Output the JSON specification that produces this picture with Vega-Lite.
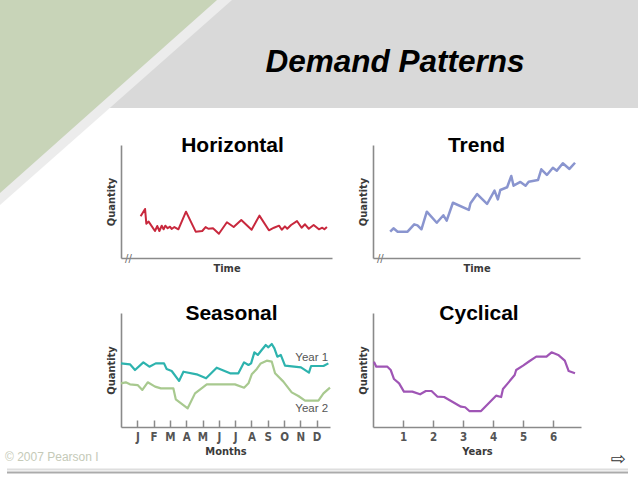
{
  "$schema": "https://vega.github.io/schema/vega-lite/v6.json",
  "padding": 0,
  "background": "white",
  "bounds": "flush",
  "spacing": 37,
  "datasets": {
    "chrome": [
      {"part": "stripe", "x": 232, "y": 0},
      {"part": "stripe", "x": 0, "y": 205},
      {"part": "green", "x": 217, "y": 0},
      {"part": "green", "x": 0, "y": 193},
      {"part": "rule_light", "x": 7, "x2": 628, "y": 469.5},
      {"part": "rule_dark", "x": 7, "x2": 628, "y": 472.5},
      {"part": "copyright", "x": 5, "y": 456.5, "label": "© 2007 Pearson I"},
      {"part": "arrow", "x": 618, "y": 460, "label": "⇨"}
    ],
    "horizontal": [
      {"t": 9.3, "q": 36.9}, {"t": 11.4, "q": 43.4}, {"t": 12.0, "q": 30.4}, {"t": 13.1, "q": 32.2},
      {"t": 16.1, "q": 23.9}, {"t": 17.2, "q": 28.3}, {"t": 18.2, "q": 23.9}, {"t": 19.3, "q": 28.6},
      {"t": 20.2, "q": 25.4}, {"t": 21.0, "q": 28.6}, {"t": 22.1, "q": 26.3}, {"t": 23.2, "q": 27.7},
      {"t": 24.0, "q": 25.7}, {"t": 25.3, "q": 27.4}, {"t": 27.2, "q": 25.4}, {"t": 30.8, "q": 41.0},
      {"t": 35.4, "q": 23.3}, {"t": 38.5, "q": 23.9}, {"t": 40.1, "q": 27.4}, {"t": 41.4, "q": 25.9},
      {"t": 43.6, "q": 26.3}, {"t": 46.4, "q": 21.5}, {"t": 50.2, "q": 31.6}, {"t": 53.4, "q": 27.4},
      {"t": 57.0, "q": 33.6}, {"t": 61.9, "q": 25.0}, {"t": 65.6, "q": 37.5}, {"t": 70.1, "q": 24.5},
      {"t": 72.5, "q": 26.8}, {"t": 74.9, "q": 28.6}, {"t": 76.2, "q": 25.0}, {"t": 77.7, "q": 28.0},
      {"t": 78.8, "q": 25.9}, {"t": 80.6, "q": 29.2}, {"t": 83.4, "q": 32.7}, {"t": 85.6, "q": 26.8},
      {"t": 87.2, "q": 29.8}, {"t": 89.0, "q": 25.9}, {"t": 91.3, "q": 29.2}, {"t": 93.8, "q": 25.4},
      {"t": 95.4, "q": 26.8}, {"t": 96.4, "q": 25.4}, {"t": 97.6, "q": 27.4}
    ],
    "trend": [
      {"t": 8.3, "q": 23.3}, {"t": 9.9, "q": 26.3}, {"t": 11.9, "q": 23.3}, {"t": 16.7, "q": 23.3},
      {"t": 19.9, "q": 29.8}, {"t": 21.5, "q": 28.9}, {"t": 23.4, "q": 25.4}, {"t": 26.0, "q": 41.0},
      {"t": 30.8, "q": 31.2}, {"t": 34.0, "q": 37.8}, {"t": 35.6, "q": 33.0}, {"t": 38.6, "q": 48.9},
      {"t": 46.3, "q": 42.5}, {"t": 47.1, "q": 48.4}, {"t": 50.3, "q": 56.6}, {"t": 55.1, "q": 47.8},
      {"t": 58.7, "q": 59.6}, {"t": 60.3, "q": 51.9}, {"t": 61.5, "q": 60.2}, {"t": 64.8, "q": 62.6},
      {"t": 66.8, "q": 72.6}, {"t": 67.9, "q": 64.0}, {"t": 71.2, "q": 67.3}, {"t": 73.7, "q": 64.0},
      {"t": 75.2, "q": 67.5}, {"t": 79.7, "q": 69.0}, {"t": 81.3, "q": 78.5}, {"t": 84.0, "q": 73.5},
      {"t": 86.9, "q": 79.9}, {"t": 88.8, "q": 77.3}, {"t": 91.7, "q": 83.8}, {"t": 94.9, "q": 78.8},
      {"t": 97.6, "q": 84.3}
    ],
    "seasonal": [
      {"series": "Year 1", "month": 0.0, "q": 55.8}, {"series": "Year 1", "month": 0.55, "q": 55.0},
      {"series": "Year 1", "month": 0.86, "q": 50.0}, {"series": "Year 1", "month": 1.37, "q": 56.7},
      {"series": "Year 1", "month": 1.74, "q": 52.9}, {"series": "Year 1", "month": 2.13, "q": 55.8},
      {"series": "Year 1", "month": 2.64, "q": 55.8}, {"series": "Year 1", "month": 2.80, "q": 50.9},
      {"series": "Year 1", "month": 3.11, "q": 49.1}, {"series": "Year 1", "month": 3.56, "q": 40.4},
      {"series": "Year 1", "month": 3.83, "q": 48.5}, {"series": "Year 1", "month": 4.64, "q": 46.2},
      {"series": "Year 1", "month": 5.22, "q": 42.7}, {"series": "Year 1", "month": 5.87, "q": 52.0},
      {"series": "Year 1", "month": 6.69, "q": 47.1}, {"series": "Year 1", "month": 7.20, "q": 47.1},
      {"series": "Year 1", "month": 7.55, "q": 56.7}, {"series": "Year 1", "month": 7.82, "q": 54.4},
      {"series": "Year 1", "month": 7.98, "q": 55.8}, {"series": "Year 1", "month": 8.18, "q": 65.5},
      {"series": "Year 1", "month": 8.39, "q": 63.2}, {"series": "Year 1", "month": 8.63, "q": 67.5},
      {"series": "Year 1", "month": 8.88, "q": 71.9}, {"series": "Year 1", "month": 9.04, "q": 69.9},
      {"series": "Year 1", "month": 9.25, "q": 72.8}, {"series": "Year 1", "month": 9.41, "q": 69.0},
      {"series": "Year 1", "month": 9.59, "q": 61.7}, {"series": "Year 1", "month": 9.80, "q": 63.2},
      {"series": "Year 1", "month": 10.06, "q": 53.8}, {"series": "Year 1", "month": 11.04, "q": 52.3},
      {"series": "Year 1", "month": 11.53, "q": 47.7}, {"series": "Year 1", "month": 11.66, "q": 53.5},
      {"series": "Year 1", "month": 12.42, "q": 53.5}, {"series": "Year 1", "month": 12.72, "q": 55.8},
      {"series": "Year 2", "month": 0.0, "q": 38.3}, {"series": "Year 2", "month": 0.29, "q": 39.2},
      {"series": "Year 2", "month": 0.55, "q": 37.4}, {"series": "Year 2", "month": 1.02, "q": 36.8},
      {"series": "Year 2", "month": 1.31, "q": 32.5}, {"series": "Year 2", "month": 1.64, "q": 39.2},
      {"series": "Year 2", "month": 2.09, "q": 35.4}, {"series": "Year 2", "month": 2.45, "q": 33.9},
      {"series": "Year 2", "month": 3.21, "q": 33.9}, {"series": "Year 2", "month": 3.36, "q": 24.3},
      {"series": "Year 2", "month": 4.09, "q": 16.4}, {"series": "Year 2", "month": 4.54, "q": 29.5},
      {"series": "Year 2", "month": 5.26, "q": 37.4}, {"series": "Year 2", "month": 6.99, "q": 37.4},
      {"series": "Year 2", "month": 7.55, "q": 34.5}, {"series": "Year 2", "month": 7.82, "q": 38.3},
      {"series": "Year 2", "month": 8.02, "q": 46.2}, {"series": "Year 2", "month": 8.33, "q": 50.9},
      {"series": "Year 2", "month": 8.57, "q": 55.8}, {"series": "Year 2", "month": 8.94, "q": 58.2},
      {"series": "Year 2", "month": 9.25, "q": 57.3}, {"series": "Year 2", "month": 9.45, "q": 47.1},
      {"series": "Year 2", "month": 9.96, "q": 39.8}, {"series": "Year 2", "month": 10.47, "q": 30.4},
      {"series": "Year 2", "month": 10.88, "q": 27.2}, {"series": "Year 2", "month": 11.29, "q": 23.1},
      {"series": "Year 2", "month": 12.11, "q": 23.1}, {"series": "Year 2", "month": 12.42, "q": 29.5},
      {"series": "Year 2", "month": 12.82, "q": 34.5}
    ],
    "seasonal_labels": [
      {"series": "Year 1", "month": 11.7, "q": 60.5},
      {"series": "Year 2", "month": 11.7, "q": 15.8}
    ],
    "cyclical": [
      {"year": 0.03, "q": 57.3}, {"year": 0.11, "q": 52.9}, {"year": 0.48, "q": 52.9}, {"year": 0.59, "q": 50.0},
      {"year": 0.70, "q": 42.1}, {"year": 0.87, "q": 38.3}, {"year": 1.03, "q": 31.0}, {"year": 1.31, "q": 31.0},
      {"year": 1.57, "q": 28.7}, {"year": 1.76, "q": 31.6}, {"year": 1.95, "q": 31.6}, {"year": 2.15, "q": 26.6},
      {"year": 2.37, "q": 26.3}, {"year": 2.93, "q": 17.8}, {"year": 3.07, "q": 17.3}, {"year": 3.21, "q": 14.0},
      {"year": 3.60, "q": 14.0}, {"year": 4.10, "q": 27.5}, {"year": 4.27, "q": 26.3}, {"year": 4.33, "q": 33.3},
      {"year": 4.49, "q": 38.3}, {"year": 4.72, "q": 45.6}, {"year": 4.77, "q": 50.0}, {"year": 5.00, "q": 53.8},
      {"year": 5.22, "q": 57.9}, {"year": 5.44, "q": 61.7}, {"year": 5.78, "q": 61.7}, {"year": 5.95, "q": 65.5},
      {"year": 6.17, "q": 63.2}, {"year": 6.39, "q": 58.2}, {"year": 6.52, "q": 49.1}, {"year": 6.73, "q": 47.1}
    ]
  },
  "vconcat": [
    {
      "width": 638,
      "height": 108,
      "view": {"fill": "#d9d9d9", "stroke": null},
      "title": {"text": "Demand Patterns", "fontSize": 31.5, "fontStyle": "italic", "fontWeight": "bold", "dx": 76, "offset": -78},
      "data": {"name": "chrome"},
      "encoding": {
        "x": {"field": "x", "type": "quantitative", "stack": null, "scale": {"domain": [0, 638], "nice": false}, "axis": null},
        "y": {"field": "y", "type": "quantitative", "scale": {"domain": [0, 108], "nice": false, "zero": false, "reverse": true}, "axis": null}
      },
      "layer": [
        {"transform": [{"filter": "datum.part === 'stripe'"}], "mark": {"type": "area", "orient": "horizontal", "color": "#ececec"}},
        {"transform": [{"filter": "datum.part === 'green'"}], "mark": {"type": "area", "orient": "horizontal", "color": "#c8d4b8"}},
        {"transform": [{"filter": "datum.part === 'rule_light'"}], "mark": {"type": "rule", "color": "#dedede", "strokeWidth": 2}, "encoding": {"x2": {"field": "x2"}}},
        {"transform": [{"filter": "datum.part === 'rule_dark'"}], "mark": {"type": "rule", "color": "#ababab", "strokeWidth": 2}, "encoding": {"x2": {"field": "x2"}}},
        {"transform": [{"filter": "datum.part === 'copyright'"}], "mark": {"type": "text", "align": "left", "baseline": "middle", "font": "Liberation Sans", "fontSize": 12, "color": "#c5cab8"}, "encoding": {"text": {"field": "label"}}},
        {"transform": [{"filter": "datum.part === 'arrow'"}], "mark": {"type": "text", "align": "center", "baseline": "middle", "font": "DejaVu Sans", "fontSize": 18, "color": "#333333"}, "encoding": {"text": {"field": "label"}}}
      ]
    },
    {
      "columns": 3,
      "spacing": {"row": 55, "column": 41},
      "align": "none",
      "bounds": "flush",
      "concat": [
        {"width": 80, "height": 113, "data": {"values": []}, "mark": "point"},
        {
          "width": 211,
          "height": 113,
          "title": {"text": "Horizontal", "dx": 6},
          "data": {"name": "horizontal"},
          "mark": {"type": "line", "color": "#c8283d", "strokeWidth": 2, "strokeJoin": "round"},
          "encoding": {
            "x": {"field": "t", "type": "quantitative", "scale": {"domain": [0, 100], "nice": false, "zero": false},
              "axis": {"title": "Time", "ticks": false, "values": [3.3], "labelExpr": "'//'", "labelBaseline": "middle", "labelPadding": 0, "labelFont": "DejaVu Sans", "labelFontWeight": "normal", "labelFontSize": 10, "labelColor": "#666666", "titlePadding": -1}},
            "y": {"field": "q", "type": "quantitative", "scale": {"domain": [0, 100], "nice": false, "zero": false},
              "axis": {"title": "Quantity", "ticks": false, "labels": false, "titlePadding": 5}}
          }
        },
        {
          "width": 207,
          "height": 113,
          "title": {"text": "Trend", "dx": 0},
          "data": {"name": "trend"},
          "mark": {"type": "line", "color": "#8a95cf", "strokeWidth": 2.5, "strokeJoin": "round"},
          "encoding": {
            "x": {"field": "t", "type": "quantitative", "scale": {"domain": [0, 100], "nice": false, "zero": false},
              "axis": {"title": "Time", "ticks": false, "values": [3.3], "labelExpr": "'//'", "labelBaseline": "middle", "labelPadding": 0, "labelFont": "DejaVu Sans", "labelFontWeight": "normal", "labelFontSize": 10, "labelColor": "#666666", "titlePadding": -1}},
            "y": {"field": "q", "type": "quantitative", "scale": {"domain": [0, 100], "nice": false, "zero": false},
              "axis": {"title": "Quantity", "ticks": false, "labels": false, "titlePadding": 5}}
          }
        },
        {"width": 78, "height": 114, "data": {"values": []}, "mark": "point"},
        {
          "width": 209,
          "height": 114,
          "title": {"text": "Seasonal", "dx": 6},
          "encoding": {
            "x": {"field": "month", "type": "quantitative", "scale": {"domain": [0, 12.82], "nice": false, "zero": false},
              "axis": {"title": "Months", "values": [1, 2, 3, 4, 5, 6, 7, 8, 9, 10, 11, 12], "labelExpr": "['', 'J', 'F', 'M', 'A', 'M', 'J', 'J', 'A', 'S', 'O', 'N', 'D'][datum.value]", "tickSize": -7, "labelPadding": 11, "titlePadding": 3}},
            "y": {"field": "q", "type": "quantitative", "scale": {"domain": [0, 100], "nice": false, "zero": false},
              "axis": {"title": "Quantity", "ticks": false, "labels": false, "titlePadding": 5}}
          },
          "layer": [
            {
              "data": {"name": "seasonal"},
              "mark": {"type": "line", "strokeWidth": 2.2, "strokeJoin": "round"},
              "encoding": {"color": {"field": "series", "type": "nominal", "scale": {"domain": ["Year 1", "Year 2"], "range": ["#2db3ae", "#a8c98f"]}, "legend": null}}
            },
            {
              "data": {"name": "seasonal_labels"},
              "mark": {"type": "text", "font": "Liberation Sans", "fontSize": 11.5, "color": "#555555", "align": "center", "baseline": "middle"},
              "encoding": {"text": {"field": "series"}}
            }
          ]
        },
        {
          "width": 208,
          "height": 114,
          "title": {"text": "Cyclical", "dx": 2},
          "data": {"name": "cyclical"},
          "mark": {"type": "line", "color": "#9f55b5", "strokeWidth": 2.2, "strokeJoin": "round"},
          "encoding": {
            "x": {"field": "year", "type": "quantitative", "scale": {"domain": [0, 6.93], "nice": false, "zero": false},
              "axis": {"title": "Years", "values": [1, 2, 3, 4, 5, 6], "format": "d", "tickSize": -7, "labelPadding": 11, "titlePadding": 3}},
            "y": {"field": "q", "type": "quantitative", "scale": {"domain": [0, 100], "nice": false, "zero": false},
              "axis": {"title": "Quantity", "ticks": false, "labels": false, "titlePadding": 5}}
          }
        }
      ]
    }
  ],
  "config": {
    "view": {"stroke": null},
    "axis": {
      "grid": false,
      "domainColor": "#8a8a8a",
      "domainWidth": 1.6,
      "tickColor": "#8a8a8a",
      "tickWidth": 1.5,
      "labelFlush": false,
      "labelFont": "Liberation Sans Narrow, DejaVu Sans Condensed, sans-serif",
      "labelFontWeight": "bold",
      "labelFontSize": 11.5,
      "labelColor": "#555555",
      "titleFont": "Liberation Sans Narrow, DejaVu Sans Condensed, sans-serif",
      "titleFontWeight": "bold",
      "titleFontSize": 11,
      "titleColor": "#3a3a3a"
    },
    "title": {
      "font": "Liberation Sans",
      "fontWeight": "bold",
      "fontSize": 21,
      "color": "#000000",
      "frame": "group",
      "anchor": "middle",
      "baseline": "alphabetic",
      "offset": -11
    }
  }
}
